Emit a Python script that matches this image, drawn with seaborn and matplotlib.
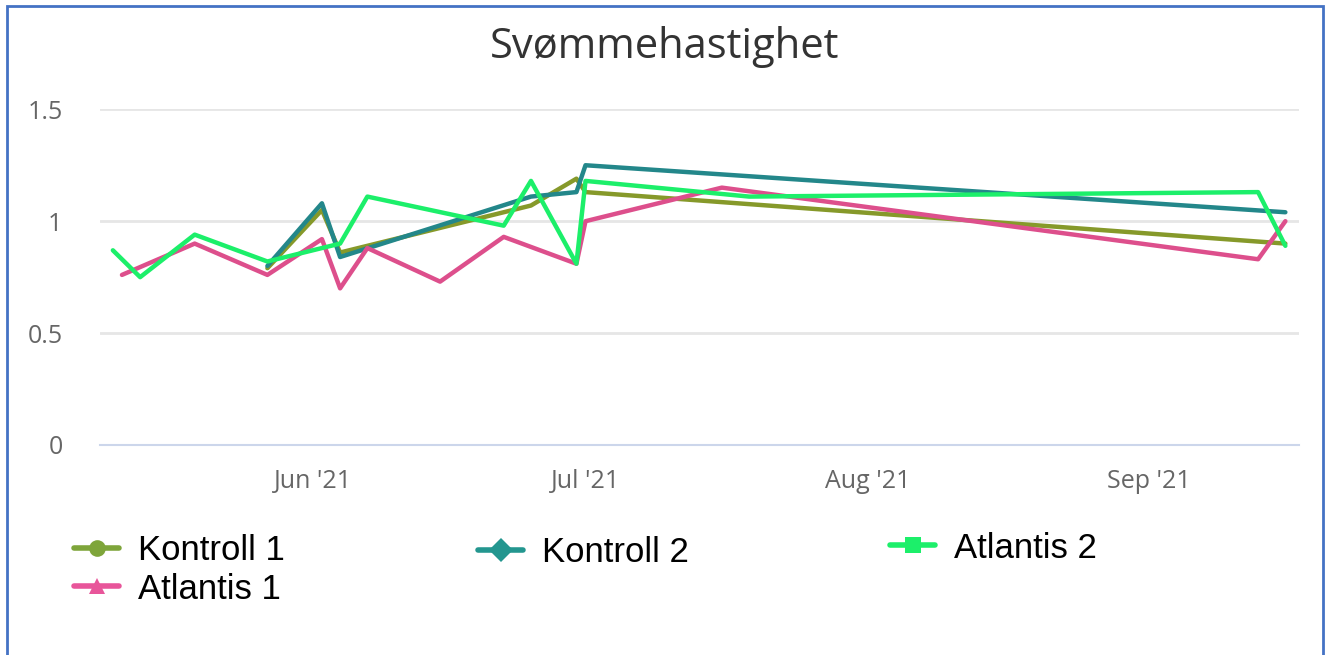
import numpy as np
import pandas as pd
import seaborn as sns
import matplotlib
matplotlib.use("Agg")
import matplotlib.pyplot as plt
import matplotlib.dates as mdates
from matplotlib.lines import Line2D
from matplotlib.patches import Rectangle

# %% data

kontroll1_dates = ['2021-05-27', '2021-06-02', '2021-06-04', '2021-06-25', '2021-06-30', '2021-07-01', '2021-09-16']
kontroll1_vals = [0.79, 1.05, 0.86, 1.07, 1.19, 1.13, 0.90]

kontroll2_dates = ['2021-05-27', '2021-06-02', '2021-06-04', '2021-06-25', '2021-06-30', '2021-07-01', '2021-09-16']
kontroll2_vals = [0.80, 1.08, 0.84, 1.11, 1.13, 1.25, 1.04]

atlantis1_dates = ['2021-05-11', '2021-05-19', '2021-05-27', '2021-06-02', '2021-06-04', '2021-06-07', '2021-06-15',
                   '2021-06-22', '2021-06-30', '2021-07-01', '2021-07-16', '2021-09-13', '2021-09-16']
atlantis1_vals = [0.76, 0.90, 0.76, 0.92, 0.70, 0.88, 0.73, 0.93, 0.81, 1.00, 1.15, 0.83, 1.00]

atlantis2_dates = ['2021-05-10', '2021-05-13', '2021-05-19', '2021-05-27', '2021-06-04', '2021-06-07', '2021-06-22',
                   '2021-06-25', '2021-06-30', '2021-07-01', '2021-07-19', '2021-09-13', '2021-09-16']
atlantis2_vals = [0.87, 0.75, 0.94, 0.82, 0.90, 1.11, 0.98, 1.18, 0.81, 1.18, 1.11, 1.13, 0.89]

series_names = ['Kontroll 1', 'Kontroll 2', 'Atlantis 1', 'Atlantis 2']
colors = ['#86992a', '#23878a', '#dd4f8c', '#1cef6a']
legend_colors = ['#7ea53a', '#23968f', '#e8559a', '#1cef6a']
markers = ['o', 'D', '^', 's']

# %% build long table

frames = []
for name, d, v in zip(series_names,
                      [kontroll1_dates, kontroll2_dates, atlantis1_dates, atlantis2_dates],
                      [kontroll1_vals, kontroll2_vals, atlantis1_vals, atlantis2_vals]):
    frames.append(pd.DataFrame({'date': pd.to_datetime(d), 'value': v, 'group': name}))
df = pd.concat(frames, ignore_index=True)

# %% plot

sns.set_style("white")
plt.rcParams['font.family'] = ['Open Sans', 'DejaVu Sans']

fig = plt.figure(figsize=(13.3, 6.55), dpi=100)
ax = fig.add_axes([100 / 1330, 1 - 445 / 655, 1199 / 1330, (445 - 109.3) / 655])

sns.lineplot(data=df, x='date', y='value', hue='group', hue_order=series_names,
             palette=dict(zip(series_names, colors)), linewidth=3.2, legend=False,
             estimator=None, sort=False, ax=ax)

ax.set_xlim(pd.Timestamp('2021-05-08 14:00'), pd.Timestamp('2021-09-17 12:00'))
ax.set_ylim(0, 1.5)
ax.set_yticks([0, 0.5, 1, 1.5])
ax.set_yticklabels(['0', '0.5', '1', '1.5'])
ax.yaxis.grid(True, color='#e6e6e6', linewidth=2)
ax.xaxis.grid(False)
ax.set_axisbelow(True)
for s in ['top', 'right', 'left']:
    ax.spines[s].set_visible(False)
ax.spines['bottom'].set_color('#ccd6eb')
ax.spines['bottom'].set_linewidth(1.5)

ax.xaxis.set_major_locator(mdates.MonthLocator(bymonth=[6, 7, 8, 9]))
ax.xaxis.set_major_formatter(mdates.DateFormatter("%b '%y"))
ax.tick_params(axis='x', length=8, width=1.2, color='#ccd6eb', pad=9, labelsize=18, labelcolor='#666666')
ax.tick_params(axis='y', length=0, pad=27, labelsize=18, labelcolor='#666666')
ax.set_xlabel('')
ax.set_ylabel('')

fig.text(0.5, 1 - 47 / 655, 'Svømmehastighet', ha='center', va='center', fontsize=30, color='#333333')

# legend, laid out like the pasted one
def handle(i):
    return Line2D([], [], color=legend_colors[i], lw=4, marker=markers[i], markersize=12,
                  markeredgewidth=0)

leg_kw = dict(frameon=False, loc='center left', prop={'family': 'Liberation Sans', 'size': 25},
              handlelength=1.3, handletextpad=0.55, borderpad=0, borderaxespad=0, labelspacing=0.15,
              labelcolor='black')
l1 = fig.legend([handle(0), handle(2)], ['Kontroll 1', 'Atlantis 1'],
                bbox_to_anchor=(74 / 1330, 1 - 570 / 655), **leg_kw)
l2 = fig.legend([handle(1)], ['Kontroll 2'], bbox_to_anchor=(478 / 1330, 1 - 553 / 655), **leg_kw)
l3 = fig.legend([handle(3)], ['Atlantis 2'], bbox_to_anchor=(890 / 1330, 1 - 548 / 655), **leg_kw)

# blue frame round the picture
fig.patches.append(Rectangle((7 / 1330, -0.02), 1316 / 1330, 1 - 6 / 655 + 0.02, transform=fig.transFigure,
                             fill=False, edgecolor='#4472c4', linewidth=2))

plt.savefig('out.png', dpi=100)
plt.close()
